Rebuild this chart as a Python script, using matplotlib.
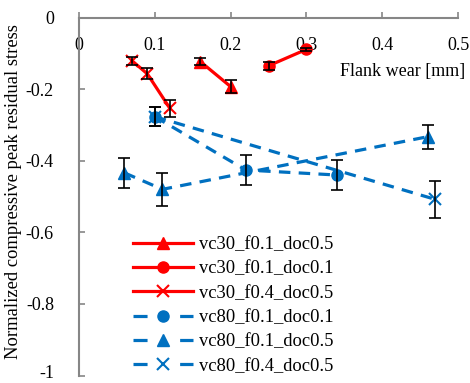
import matplotlib
matplotlib.use("Agg")
import matplotlib.pyplot as plt
from matplotlib.lines import Line2D
from matplotlib.transforms import ScaledTranslation

plt.rcParams['font.family'] = ['Liberation Serif', 'DejaVu Serif']

# Data
labels = ["vc30_f0.1_doc0.5", "vc30_f0.1_doc0.1", "vc30_f0.4_doc0.5",
          "vc80_f0.1_doc0.1", "vc80_f0.1_doc0.5", "vc80_f0.4_doc0.5"]
x_vc30_f01_doc05 = [0.16, 0.20]
y_vc30_f01_doc05 = [-0.123, -0.193]
e_vc30_f01_doc05 = [0.011, 0.018]

x_vc30_f01_doc01 = [0.25, 0.30]
y_vc30_f01_doc01 = [-0.135, -0.089]
e_vc30_f01_doc01 = [0.011, 0.004]

x_vc30_f04_doc05 = [0.07, 0.09, 0.12]
y_vc30_f04_doc05 = [-0.121, -0.157, -0.254]
e_vc30_f04_doc05 = [0.012, 0.015, 0.024]

x_vc80_f01_doc01 = [0.10, 0.22, 0.34]
y_vc80_f01_doc01 = [-0.277, -0.426, -0.44]
e_vc80_f01_doc01 = [0.027, 0.043, 0.043]

x_vc80_f01_doc05 = [0.06, 0.11, 0.46]
y_vc80_f01_doc05 = [-0.434, -0.48, -0.333]
e_vc80_f01_doc05 = [0.042, 0.047, 0.033]

x_vc80_f04_doc05 = [0.10, 0.47]
y_vc80_f04_doc05 = [-0.277, -0.508]
e_vc80_f04_doc05 = [0.027, 0.051]

xticks = [0, 0.1, 0.2, 0.3, 0.4, 0.5]
xticklabels = ["0", "0.1", "0.2", "0.3", "0.4", "0.5"]
yticks = [0, -0.2, -0.4, -0.6, -0.8, -1.0]
yticklabels = ["0", "-0.2", "-0.4", "-0.6", "-0.8", "-1"]

W, H = 470, 383
fig = plt.figure(figsize=(W / 100, H / 100), dpi=100)
l, r, t, b = 79, 458, 17.5, 375.5
ax = fig.add_axes([l / W, 1 - b / H, (r - l) / W, (b - t) / H])

red = "#FF0000"
blue = "#0070C0"
dash = (0, (3.6, 2.6))
LW = 2.3

series = [
    (x_vc30_f01_doc05, y_vc30_f01_doc05, e_vc30_f01_doc05, red, '-', '^', 8),
    (x_vc30_f01_doc01, y_vc30_f01_doc01, e_vc30_f01_doc01, red, '-', 'o', 8),
    (x_vc30_f04_doc05, y_vc30_f04_doc05, e_vc30_f04_doc05, red, '-', 'x', 8.5),
    (x_vc80_f01_doc01, y_vc80_f01_doc01, e_vc80_f01_doc01, blue, dash, 'o', 8),
    (x_vc80_f01_doc05, y_vc80_f01_doc05, e_vc80_f01_doc05, blue, dash, '^', 8),
    (x_vc80_f04_doc05, y_vc80_f04_doc05, e_vc80_f04_doc05, blue, dash, 'x', 8.5),
]

handles = []
for (xs, ys, es, c, ls, m, ms), lab in zip(series, labels):
    mew = 1.5 if m == 'x' else 1.0
    ax.plot(xs, ys, color=c, linestyle=ls, linewidth=LW, marker=m,
            markersize=ms, markeredgewidth=mew,
            markerfacecolor=c, markeredgecolor=c, zorder=3)
    ax.errorbar(xs, ys, yerr=es, fmt='none', ecolor='black', elinewidth=1.2,
                capsize=4, capthick=1.2, zorder=4)
    hls = '-' if ls == '-' else (0, (4.4, 10.2))
    handles.append(Line2D([], [], color=c, linestyle=hls, linewidth=LW,
                          marker=m, markersize=ms, markeredgewidth=mew,
                          markerfacecolor=c, markeredgecolor=c, label=lab))

ax.set_xlim(0, 0.5)
ax.set_ylim(-1, 0)

for s in ['right', 'top']:
    ax.spines[s].set_visible(False)
ax.spines['bottom'].set_position(('data', 0))
for s in ['left', 'bottom']:
    ax.spines[s].set_color('#868686')
    ax.spines[s].set_linewidth(1.5)

ax.set_xticks(xticks)
ax.set_xticklabels(xticklabels)
ax.set_yticks(yticks)
ax.set_yticklabels(yticklabels)
ax.tick_params(axis='x', direction='in', length=4, width=1.2, color='#868686',
               pad=14, labelsize=13)
ax.tick_params(axis='y', direction='in', length=4, width=1.2, color='#868686',
               pad=18, labelsize=13)

# nudge the bottom tick label up slightly so it stays inside the figure
lab_last = ax.get_yticklabels()[-1]
lab_last.set_transform(lab_last.get_transform() +
                       ScaledTranslation(0, 3 / 72, fig.dpi_scale_trans))

ax.text((465 - l) / (r - l), 0.85, "Flank wear [mm]", transform=ax.transAxes,
        ha='right', va='center', fontsize=13)
fig.text(14 / W, 1 - 192 / H, "Normalized compressive peak residual stress",
         rotation=90, ha='center', va='center', fontsize=13.4)

leg = ax.legend(handles=handles, loc='upper left',
                bbox_to_anchor=(133 / W, 1 - 236 / H),
                bbox_transform=fig.transFigure, frameon=False, fontsize=13.3,
                handlelength=3.25, handletextpad=0.3, labelspacing=0.4,
                borderpad=0, borderaxespad=0)

fig.savefig("out.png", dpi=100)
